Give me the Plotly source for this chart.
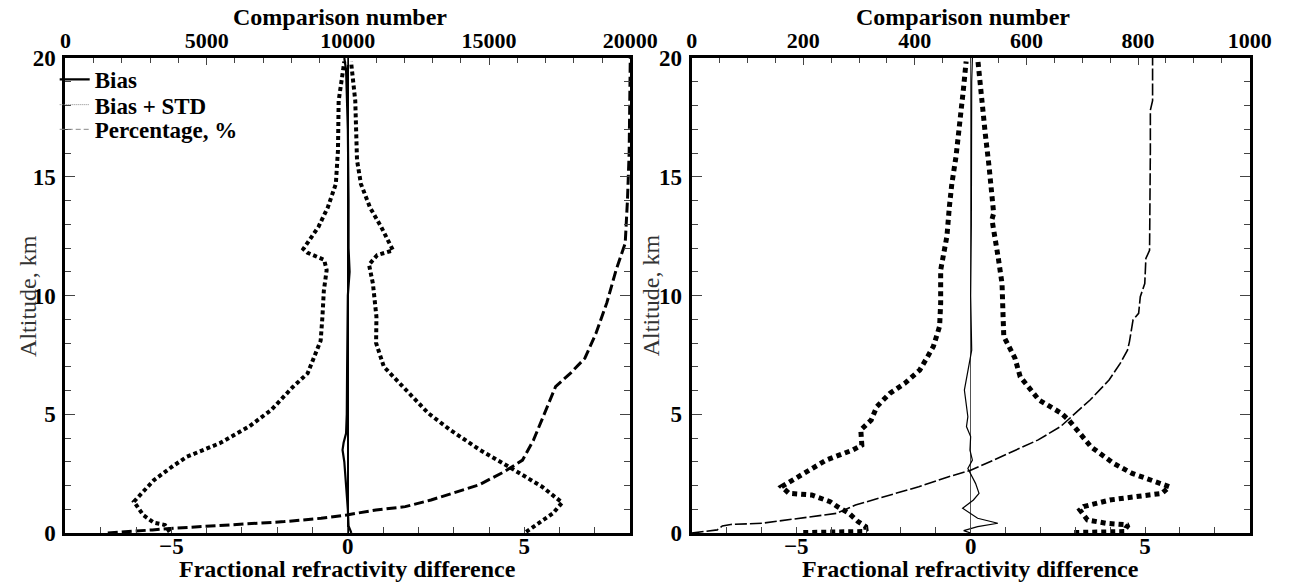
import plotly.graph_objects as go

# ---------------- data ----------------
# Left panel
L_neg_h = [0.05, 0.13, 0.34, 0.43, 0.76, 1.32, 2.23, 2.79, 3.21, 3.78, 4.48, 5.18, 6.16, 6.72, 7.36, 8.1, 9.1, 10.2,
           11.07, 11.5, 11.8, 11.96, 12.9, 13.7, 14.7, 16.1, 18.2, 19.85]
L_neg_v = [-5.05, -5.08, -5.18, -5.49, -5.8, -6.06, -5.49, -4.98, -4.56, -3.63, -2.8, -2.17, -1.55, -1.14, -0.98, -0.77,
           -0.72, -0.68, -0.6, -0.67, -1.14, -1.26, -0.83, -0.57, -0.34, -0.28, -0.26, -0.1]

L_pos_h = [0.05, 0.13, 0.41, 0.83, 1.28, 1.95, 2.79, 3.5, 4.34, 5.04, 6.16, 7.0, 8.0, 9.1, 10.5, 11.3, 11.7, 11.9,
           12.9, 13.7, 14.7, 15.7, 18.2, 19.85]
L_pos_v = [5.05, 5.13, 5.39, 5.81, 6.07, 5.5, 4.56, 3.74, 2.9, 2.28, 1.56, 1.02, 0.8, 0.81, 0.71, 0.6, 0.83, 1.28,
           0.94, 0.63, 0.37, 0.26, 0.21, 0.09]

L_bias_h = [0.0, 0.3, 1.0, 2.0, 3.0, 3.5, 3.8, 4.2, 5.0, 7.0, 10.0, 11.0, 12.0, 14.0, 17.0, 19.5, 20.0]
L_bias_v = [0.1, 0.02, 0.0, -0.05, -0.1, -0.15, -0.12, -0.05, -0.03, -0.02, 0.0, 0.05, 0.02, 0.02, 0.0, -0.05, -0.1]

L_pct_h = [0.0, 0.08, 0.13, 0.2, 0.34, 0.48, 0.62, 0.76, 0.97, 1.11, 1.39, 1.67, 2.02, 2.58, 3.07, 3.92, 5.04,
           6.16, 6.72, 7.36, 8.4, 9.7, 11.07, 12.2, 14.0, 16.0, 20.0]
L_pct_n = [1500, 2300, 3079, 3859, 5807, 7752, 9052, 9959, 10997, 12034, 12945, 13724, 14631, 15538, 16186, 16576,
           16966, 17355, 17876, 18393, 18783, 19172, 19497, 19821, 19900, 19960, 20000]

# Right panel
R_neg_h = [0.02, 0.04, 0.06, 0.15, 0.27, 0.48, 0.83, 1.11, 1.32, 1.6, 1.67, 1.95, 2.23, 2.65, 3.07, 3.49, 3.7, 4.34,
           4.76, 5.32, 5.88, 6.3, 6.86, 7.36, 7.85, 8.7, 9.67, 11.07, 11.9, 12.5, 13.74, 14.7, 15.85, 17.1, 18.65, 19.85]
R_neg_v = [-4.8, -4.0, -3.1, -3.0, -3.01, -3.23, -3.49, -3.82, -4.03, -4.56, -5.21, -5.42, -5.1, -4.67, -4.14, -3.39,
           -3.12, -3.15, -2.85, -2.69, -2.32, -1.89, -1.46, -1.26, -1.07, -0.89, -0.86, -0.86, -0.77, -0.68, -0.61,
           -0.54, -0.42, -0.31, -0.21, -0.13]

R_pos_h = [0.02, 0.04, 0.06, 0.2, 0.34, 0.41, 0.55, 0.97, 1.11, 1.39, 1.53, 1.67, 1.95, 2.23, 2.51, 2.93, 3.63, 4.2,
           4.76, 5.04, 5.6, 6.58, 7.36, 7.85, 8.27, 9.1, 10.5, 11.6, 13.2, 13.46, 14.4, 15.4, 16.8, 18.5, 19.85]
R_pos_v = [2.97, 3.6, 4.42, 4.45, 4.52, 3.88, 3.35, 3.13, 3.24, 3.99, 4.73, 5.48, 5.7, 5.16, 4.63, 4.1, 3.45, 3.13,
           2.81, 2.6, 1.96, 1.42, 1.27, 1.1, 0.95, 0.93, 0.9, 0.79, 0.61, 0.66, 0.58, 0.53, 0.42, 0.32, 0.21]

R_bias_h = [0.0, 0.1, 0.27, 0.41, 0.62, 0.83, 1.04, 1.39, 1.67, 2.09, 2.72, 3.07, 3.49, 4.06, 4.48, 4.9, 6.02, 7.7,
            10.0, 13.0, 16.0, 19.0, 20.0]
R_bias_v = [0.0, -0.2, 0.2, 0.78, 0.2, 0.0, -0.23, 0.08, 0.24, 0.14, -0.08, 0.05, -0.02, 0.0, -0.12, -0.08, -0.18,
            0.03, 0.0, 0.02, 0.02, 0.03, 0.05]

R_pct_h = [0.0, 0.03, 0.13, 0.3, 0.36, 0.41, 0.62, 0.83, 1.18, 1.6, 1.95, 2.37, 2.65, 3.07, 3.49, 3.92, 4.48, 5.04,
           5.6, 6.44, 7.14, 7.7, 8.05, 8.97, 9.25, 9.95, 10.5, 11.56, 11.9, 16.1, 17.8, 18.2, 20.0]
R_pct_n = [0, 13, 46, 55, 70, 126.5, 193, 260, 293.6, 354, 407, 460.6, 501, 541, 581, 621, 661, 688, 714, 748, 768,
           781, 784.5, 791, 801, 804, 812, 814, 820.6, 822, 822, 826, 826]

# axis tick labels
diff_ticks = [-5, 0, 5]
left_top_ticks = [0, 5000, 10000, 15000, 20000]
right_top_ticks = [0, 200, 400, 600, 800, 1000]
alt_ticks = [0, 5, 10, 15, 20]

legend_names = ["Bias", "Bias + STD", "Percentage, %"]

# ---------------- figure ----------------
SERIF = "Liberation Serif"
fig = go.Figure()

# left panel traces
fig.add_trace(go.Scatter(x=L_neg_v, y=L_neg_h, xaxis="x", yaxis="y", mode="lines", showlegend=False,
                         line=dict(color="black", width=4, dash="4px,3px")))
fig.add_trace(go.Scatter(x=L_pos_v, y=L_pos_h, xaxis="x", yaxis="y", mode="lines", showlegend=False,
                         line=dict(color="black", width=4, dash="4px,3px")))
fig.add_trace(go.Scatter(x=L_bias_v, y=L_bias_h, xaxis="x", yaxis="y", mode="lines", showlegend=False,
                         line=dict(color="black", width=2.2)))
fig.add_trace(go.Scatter(x=L_pct_n, y=L_pct_h, xaxis="x2", yaxis="y", mode="lines", showlegend=False,
                         line=dict(color="black", width=3, dash="10px,4px")))

# right panel traces
fig.add_trace(go.Scatter(x=R_neg_v, y=R_neg_h, xaxis="x3", yaxis="y2", mode="lines", showlegend=False,
                         line=dict(color="black", width=5, dash="5px,4px")))
fig.add_trace(go.Scatter(x=R_pos_v, y=R_pos_h, xaxis="x3", yaxis="y2", mode="lines", showlegend=False,
                         line=dict(color="black", width=5, dash="5px,4px")))
fig.add_trace(go.Scatter(x=R_bias_v, y=R_bias_h, xaxis="x3", yaxis="y2", mode="lines", showlegend=False,
                         line=dict(color="black", width=1.2)))
fig.add_trace(go.Scatter(x=R_pct_n, y=R_pct_h, xaxis="x4", yaxis="y2", mode="lines", showlegend=False,
                         line=dict(color="black", width=1.6, dash="12px,3px")))

# legend entries (one small legend per entry, for the tight line spacing of the reference)
leg_styles = [dict(color="black", width=2.2), dict(color="#888888", width=1, dash="1px,1px"),
              dict(color="#888888", width=1, dash="5px,3px")]
leg_ids = ["legend", "legend2", "legend3"]
for name, st, lid in zip(legend_names, leg_styles, leg_ids):
    fig.add_trace(go.Scatter(x=[None], y=[None], xaxis="x", yaxis="y", mode="lines", name=name, line=st,
                             legend=lid, showlegend=True))

tickfont = dict(family=SERIF, size=23, color="black", weight="bold")
topfont = dict(family=SERIF, size=22, color="black", weight="bold")
legfont = dict(family=SERIF, size=23, color="black", weight="bold")

L_dom = [61 / 1303, 641 / 1303]
R_dom = [704 / 1303, 1277 / 1303]


def bottom_axis(dom, anchor, zw, zc):
    return dict(domain=dom, anchor=anchor, range=[-8, 8], tickvals=diff_ticks, ticks="inside", ticklen=6,
                tickwidth=1.2, minor=dict(dtick=1, ticks="inside", ticklen=6, tickwidth=1.2),
                showline=True, linewidth=3, linecolor="black", mirror=True, showgrid=False,
                zeroline=True, zerolinewidth=zw, zerolinecolor=zc, tickfont=tickfont, ticklabelstandoff=-10)


def top_axis(over, anchor, rng, vals, dt):
    return dict(overlaying=over, anchor=anchor, side="top", range=rng, tickvals=vals,
                ticktext=[str(v) for v in vals], ticks="inside", ticklen=7, tickwidth=1.2,
                minor=dict(dtick=dt, ticks="inside", ticklen=5, tickwidth=1.2), showline=False,
                showgrid=False, zeroline=False, tickfont=topfont, ticklabelstandoff=5)


def alt_axis(anchor):
    return dict(anchor=anchor, domain=[0, 1], range=[0, 20], tickvals=alt_ticks, ticks="inside", ticklen=10,
                tickwidth=1.2, minor=dict(dtick=1, ticks="inside", ticklen=6, tickwidth=1.2), showline=True,
                linewidth=3, linecolor="black", mirror="ticks", showgrid=False, zeroline=False,
                tickfont=tickfont, ticklabelstandoff=2)


def legend_box(ytop):
    return dict(x=50 / 1303, xanchor="left", y=ytop, yanchor="top", bgcolor="rgba(0,0,0,0)",
                font=legfont, itemwidth=30, tracegroupgap=0)


fig.update_layout(
    width=1303, height=583,
    margin=dict(l=0, r=0, t=58, b=50),
    paper_bgcolor="white", plot_bgcolor="white",
    xaxis=bottom_axis(L_dom, "y", 1.5, "black"),
    xaxis2=top_axis("x", "y", [0, 20000], left_top_ticks, 1000),
    yaxis=alt_axis("x"),
    xaxis3=bottom_axis(R_dom, "y2", 1, "#555555"),
    xaxis4=top_axis("x3", "y2", [0, 1000], right_top_ticks, 50),
    yaxis2=alt_axis("x3"),
    showlegend=True,
    legend=legend_box(1.0),
    legend2=legend_box(0.947),
    legend3=legend_box(0.895),
)

title_font = dict(family=SERIF, size=24, color="black", weight="bold")
alt_font = dict(family=SERIF, size=24, color="#333333")
for dom in (L_dom, R_dom):
    cx = (dom[0] + dom[1]) / 2
    fig.add_annotation(text="Fractional refractivity difference", x=cx, xref="paper", xanchor="center",
                       y=0, yref="paper", yanchor="bottom", yshift=-51, showarrow=False, font=title_font)
    fig.add_annotation(text="Comparison number", x=cx - 0.006, xref="paper", xanchor="center",
                       y=1, yref="paper", yanchor="middle", yshift=41, showarrow=False, font=title_font)
for xc in (22 / 1303, 662 / 1303):
    fig.add_annotation(text="Altitude, km", x=xc, xref="paper", y=0.5, yref="paper", textangle=-90,
                       xanchor="center", yanchor="middle", showarrow=False, font=alt_font)

fig.write_html("out.html", config={"displayModeBar": False},
               post_script="document.body.style.margin='0px';")
